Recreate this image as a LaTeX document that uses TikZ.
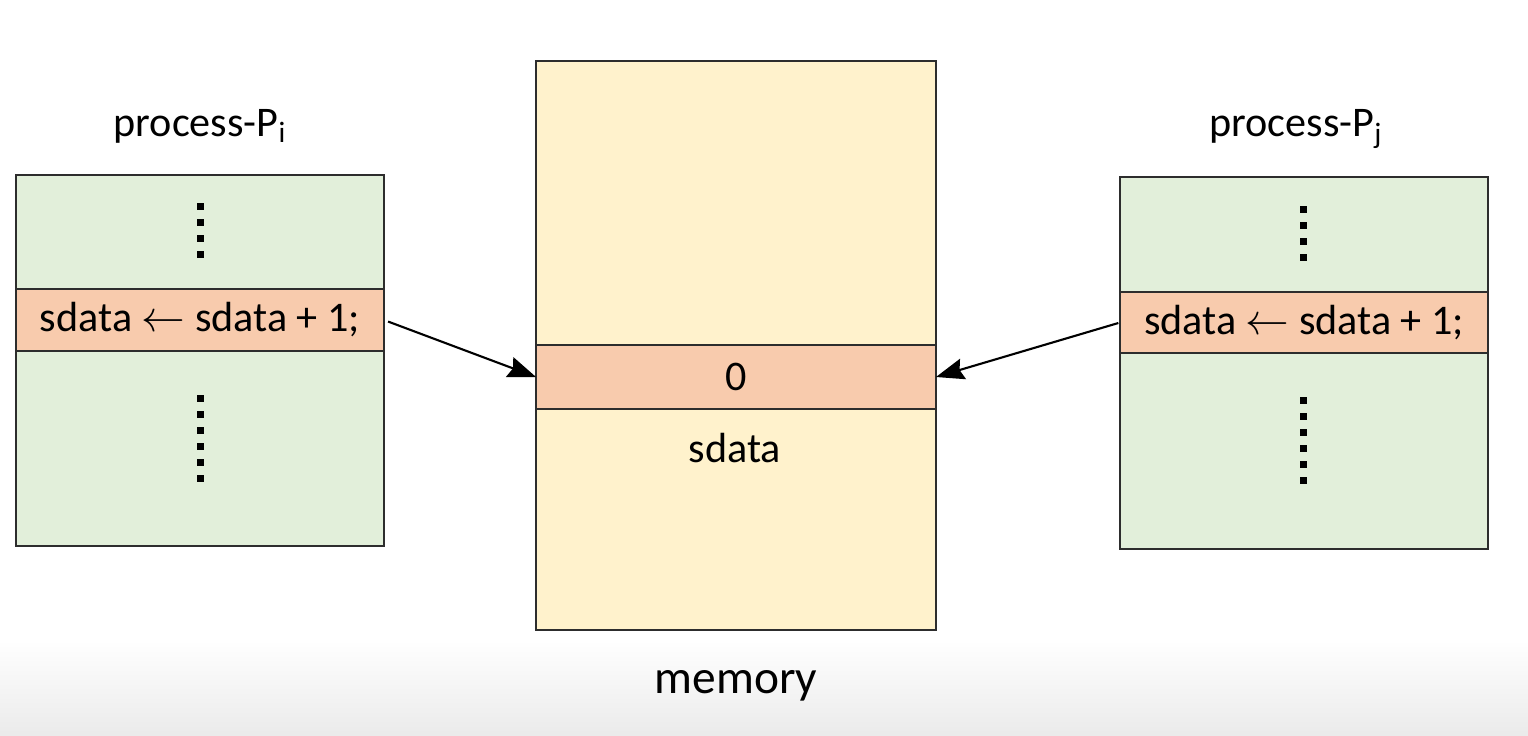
\documentclass[tikz,border=0pt]{standalone}
\usepackage{fontspec}
\setmainfont{Carlito}
\usetikzlibrary{arrows.meta}
\begin{document}
\begin{tikzpicture}[x=0.02cm, y=-0.02cm, >={Stealth[length=16pt,width=12pt,inset=2pt]}]
	\definecolor{codegreen}{RGB}{226,239,218}
	\definecolor{cellorange}{RGB}{248,203,173}
	\definecolor{memyellow}{RGB}{255,242,204}
	\definecolor{edgegray}{RGB}{45,45,45}
	\tikzset{
		block/.style={draw=edgegray, line width=1.1pt, inner sep=0pt, outer sep=0pt},
		procbox/.style={block, fill=codegreen, minimum width=7.36cm},
		band/.style={block, fill=cellorange, font=\fontsize{24}{28}\selectfont},
		titletext/.style={inner sep=0pt, font=\fontsize{24}{28}\selectfont},
		arr/.style={->, line width=1.2pt, black}
	}
	\useasboundingbox (0,0) rectangle (1528,735);
	\fill[white] (0,0) rectangle (1528,640);
	\shade[top color=white, bottom color=black!8] (0,640) rectangle (1528,735);
	% process P_i
	\node[procbox, minimum height=7.42cm] (pibox) at (200,360.5) {};
	\node[band, minimum width=7.36cm, minimum height=1.24cm] (pibar) at (200,320) {sdata $\leftarrow$ sdata + 1;};
	\node[titletext] (pilabel) at (200,126) {process-P\textsubscript{i}};
	\foreach \y in {210,226,242,258} \fill (196.5,\y) rectangle +(7,-7);
	\foreach \y in {402,418,434,450,466,482} \fill (196.5,\y) rectangle +(7,-7);
	% memory
	\node[block, fill=memyellow, minimum width=8cm, minimum height=11.38cm] (mem) at (736,345.5) {};
	\node[band, minimum width=8cm, minimum height=1.28cm] (sdcell) at (736,377) {0};
	\node[titletext] (sdname) at (735,448) {sdata};
	\node[titletext, font=\fontsize{27}{32}\selectfont] (memlabel) at (736,686) {memory};
	% process P_j
	\node[procbox, minimum height=7.44cm] (pjbox) at (1304,363) {};
	\node[band, minimum width=7.36cm, minimum height=1.22cm] (pjbar) at (1304,322.5) {sdata $\leftarrow$ sdata + 1;};
	\node[titletext] (pjlabel) at (1296,129) {process-P\textsubscript{j}};
	\foreach \y in {213,229,245,261} \fill (1299.5,\y) rectangle +(7,-7);
	\foreach \y in {404,420,436,452,468,484} \fill (1299.5,\y) rectangle +(7,-7);
	% accesses
	\draw[arr, shorten <=2.5pt] (pibar.east) -- (sdcell.west);
	\draw[arr, shorten <=1pt] (pjbar.west) -- (sdcell.east);
\end{tikzpicture}
\end{document}
